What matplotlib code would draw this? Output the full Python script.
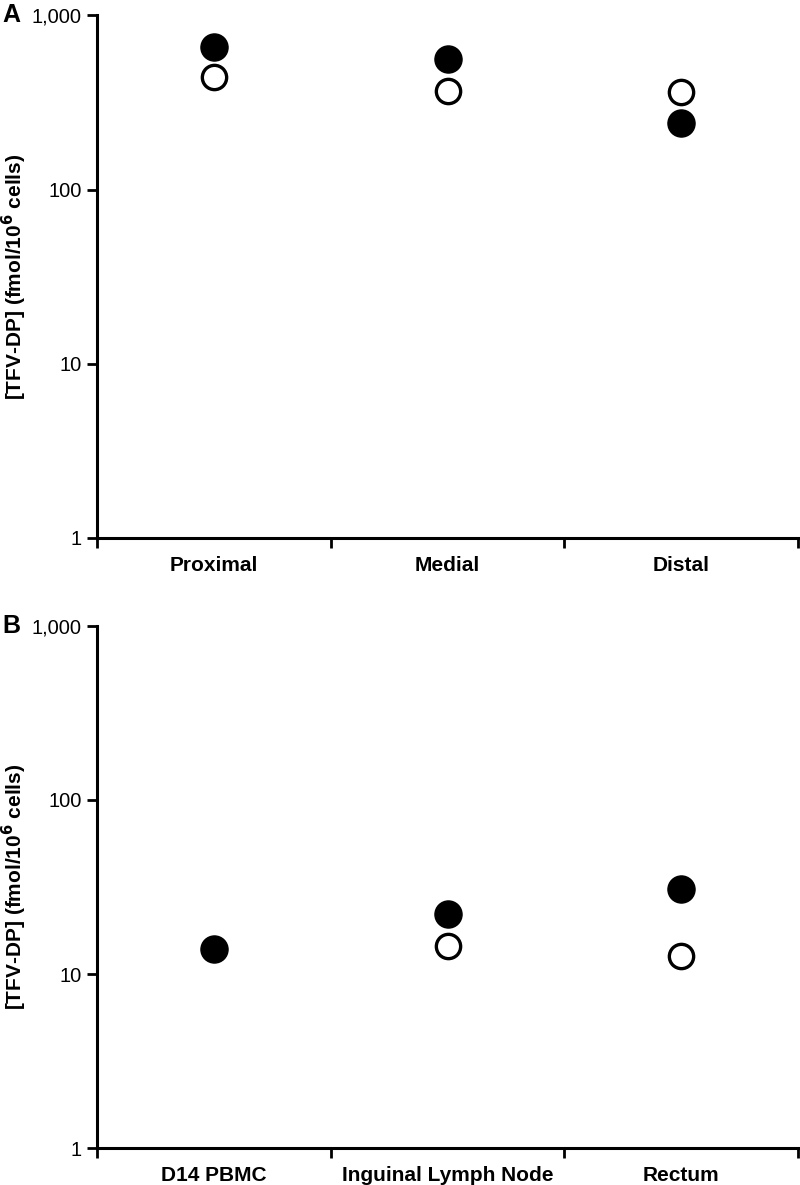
import numpy as np
import matplotlib
matplotlib.use("Agg")
import matplotlib.pyplot as plt
from matplotlib.ticker import FixedLocator, FuncFormatter, NullLocator

plt.rcParams['font.family'] = ['Liberation Sans', 'DejaVu Sans']

# ---------- Datos ----------
cats_a = ["Proximal", "Medial", "Distal"]
filled_a = [658, 565, 241]
open_a = [442, 368, 363]

cats_b = ["D14 PBMC", "Inguinal Lymph Node", "Rectum"]
filled_b = [14.0, 22.0, 30.8]
open_b = [np.nan, 14.4, 12.7]

YLABEL = "[TFV-DP] (fmol/10$^{\\mathbf{6}}$ cells)"


def panel(ax, cats, filled, abierto, letra):
    x = np.arange(1, len(cats) + 1)
    ax.plot(x, filled, 'o', ms=19.5, mfc='black', mec='black', ls='none', zorder=3)
    ax.plot(x, abierto, 'o', ms=17.5, mfc='white', mec='black', mew=2.4, ls='none', zorder=3)
    ax.set_yscale('log')
    ax.set_ylim(1, 1000)
    ax.set_xlim(0.5, len(cats) + 0.5)
    ax.yaxis.set_major_locator(FixedLocator([1, 10, 100, 1000]))
    ax.yaxis.set_minor_locator(NullLocator())
    ax.yaxis.set_major_formatter(FuncFormatter(lambda v, p: f"{int(round(v)):,}"))
    # ticks del eje x en los limites de categoria, etiquetas centradas
    ax.xaxis.set_major_locator(FixedLocator(np.arange(0.5, len(cats) + 1)))
    ax.xaxis.set_major_formatter(FuncFormatter(lambda v, p: ""))
    ax.xaxis.set_minor_locator(FixedLocator(x))
    ax.set_xticklabels(cats, minor=True, fontsize=15, fontweight='bold')
    ax.tick_params(axis='x', which='minor', length=0, pad=13)
    ax.tick_params(axis='x', which='major', length=7, width=2, direction='out')
    ax.tick_params(axis='y', which='major', length=7, width=2, direction='out',
                   labelsize=14.5, pad=4)
    for s in ['top', 'right']:
        ax.spines[s].set_visible(False)
    for s in ['left', 'bottom']:
        ax.spines[s].set_linewidth(2.2)
    ax.set_ylabel(YLABEL, fontsize=15, fontweight='bold')
    ax.yaxis.set_label_coords(-0.097, 0.5)
    ax.text(-0.135, 1.0, letra, transform=ax.transAxes, fontsize=18,
            fontweight='bold', ha='left', va='center')


fig = plt.figure(figsize=(8.0, 11.85), dpi=100)
ax_a = fig.add_axes([0.1215, 0.546, 0.876, 0.441])
ax_b = fig.add_axes([0.1215, 0.031, 0.876, 0.441])

panel(ax_a, cats_a, filled_a, open_a, "A")
panel(ax_b, cats_b, filled_b, open_b, "B")

fig.savefig("out.png", dpi=100)
